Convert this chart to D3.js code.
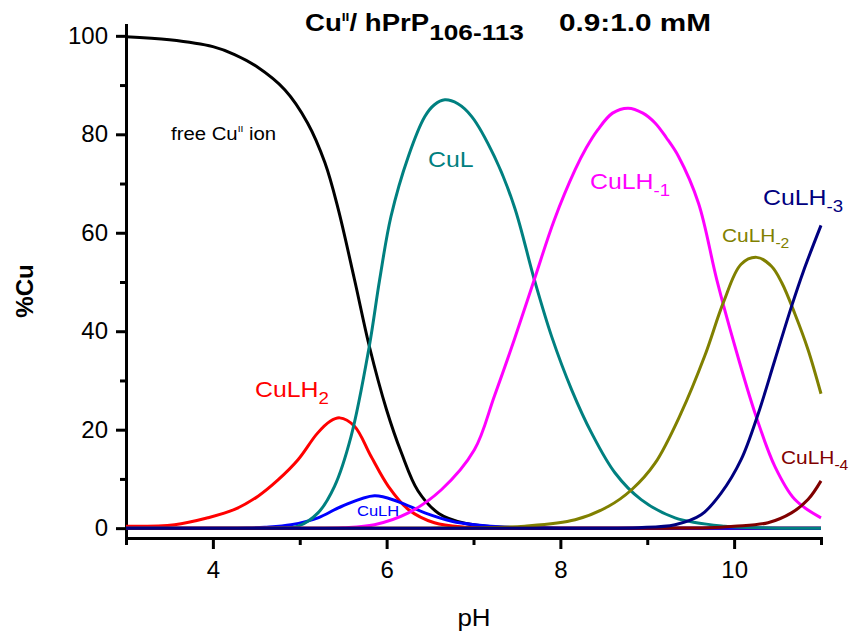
<!DOCTYPE html>
<html>
<head>
<meta charset="utf-8">
<script src="https://cdn.jsdelivr.net/npm/d3@7/dist/d3.min.js"></script>
<style>
    body { margin: 0; background: #fff; }
    text { font-family: "Liberation Sans", Arial, sans-serif; }
</style>
</head>
<body>
<div id="chart"></div>
<script>
// species distribution, [pH, %Cu]
var freeCu = [[3, 99.8], [3.5, 99.2], [4, 97.8], [4.25, 96.2], [4.5, 93.8], [4.83, 89], [5.09, 82.3],
    [5.29, 74.2], [5.44, 65], [5.63, 50.5], [5.8, 37], [6.0, 24], [6.17, 15.3], [6.36, 7.6], [6.6, 3.0],
    [6.9, 1.0], [7.3, 0.2], [8, 0], [11, 0]];
var culh2 = [[3, 0.4], [3.56, 0.7], [3.94, 2.1], [4.25, 3.8], [4.52, 6.5], [4.75, 9.8], [4.98, 13.9],
    [5.2, 19.2], [5.35, 21.7], [5.46, 22.4], [5.63, 20.7], [5.82, 14.6], [6.02, 8.5], [6.25, 3.8],
    [6.55, 1.1], [6.9, 0.2], [7.3, 0], [8, 0], [11, 0]];
var culh = [[3, 0], [4, 0], [4.4, 0.05], [4.6, 0.2], [4.9, 0.7], [5.21, 2.1], [5.48, 4.4], [5.86, 6.6],
    [6.13, 5.4], [6.44, 3.1], [6.75, 1.4], [7.01, 0.7], [7.5, 0.1], [8, 0], [11, 0]];
var cul = [[3, 0], [4.3, 0], [4.7, 0.05], [4.98, 0.4], [5.21, 3.1], [5.4, 8.5], [5.59, 18.6], [5.8, 36.9],
    [5.92, 50.5], [6.05, 63.3], [6.25, 75.5], [6.44, 83.6], [6.55, 86], [6.67, 87], [6.82, 86.2],
    [6.98, 83.6], [7.24, 75.5], [7.47, 65.3], [7.7, 50.5], [7.9, 38.9], [8.13, 28.1], [8.36, 19.3],
    [8.63, 11.2], [8.93, 5.8], [9.32, 2.1], [9.89, 0.4], [10.4, 0.05], [10.8, 0], [11, 0]];
var culhm1 = [[3, 0], [5, 0], [5.5, 0.1], [5.86, 0.7], [6.25, 3.1], [6.63, 7.8], [7.01, 15.9], [7.24, 26.8],
    [7.47, 38.3], [7.7, 50.5], [7.93, 62.6], [8.17, 72.8], [8.3, 77.3], [8.43, 80.9], [8.6, 84.3],
    [8.78, 85.3], [8.95, 84.3], [9.09, 82.3], [9.22, 79.3], [9.36, 75.5], [9.59, 66], [9.8, 50.5],
    [10.01, 36.9], [10.24, 23.4], [10.47, 12.5], [10.7, 5.8], [11, 2.1]];
var culhm2 = [[3, 0], [6.5, 0], [7.1, 0.1], [7.59, 0.4], [8.17, 1.7], [8.55, 4.4], [8.82, 7.8], [9.09, 13.2],
    [9.39, 23.4], [9.66, 34.9], [9.88, 46], [10.08, 53.6], [10.26, 55], [10.43, 53.2],
    [10.55, 49.8], [10.7, 43.5], [10.85, 36.3], [11, 27.3]];
var culhm3 = [[3, 0], [8.3, 0], [8.9, 0.1], [9.32, 0.7], [9.62, 2.7], [9.85, 7.1], [10.08, 13.9], [10.28, 23.4],
    [10.47, 34.2], [10.66, 45], [10.8, 52.3], [11, 61.5]];
var culhm4 = [[3, 0], [9.2, 0], [9.7, 0.1], [10.0, 0.4], [10.39, 1.1], [10.66, 3.1], [10.85, 5.8], [11, 9.6]];

var xTicks = [4, 6, 8, 10];
var xMinor = [3, 5, 7, 9, 11];
var yTicks = [0, 20, 40, 60, 80, 100];
var yMinor = [10, 30, 50, 70, 90];

var species = [
    {data: freeCu, color: "#000000"},
    {data: culh2, color: "#ff0000"},
    {data: culh, color: "#0000ff"},
    {data: cul, color: "#008080"},
    {data: culhm1, color: "#ff00ff"},
    {data: culhm2, color: "#808000"},
    {data: culhm4, color: "#800000"},
    {data: culhm3, color: "#000080"}
];

var width = 849, height = 632;

var svg = d3.select("#chart")
    .append("svg")
    .attr("width", width)
    .attr("height", height);

var xScale = d3.scaleLinear().domain([3, 11]).range([126, 821]);
var yScale = d3.scaleLinear().domain([-2, 102.2]).range([538, 25]);

//axes
svg.append("g")
    .attr("transform", "translate(0,538)")
    .call(d3.axisBottom(xScale).tickValues(xTicks).tickSize(11).tickSizeOuter(0)
        .tickPadding(12).tickFormat(d3.format("d")));
svg.append("g")
    .attr("class", "minor")
    .attr("transform", "translate(0,538)")
    .call(d3.axisBottom(xScale).tickValues(xMinor).tickSize(7).tickFormat(""));

svg.append("g")
    .attr("transform", "translate(126,0)")
    .call(d3.axisLeft(yScale).tickValues(yTicks).tickSize(10).tickSizeOuter(0)
        .tickPadding(8).tickFormat(d3.format("d")));
svg.append("g")
    .attr("class", "minor")
    .attr("transform", "translate(126,0)")
    .call(d3.axisLeft(yScale).tickValues(yMinor).tickSize(6).tickFormat(""));

svg.selectAll(".minor .domain").remove();
svg.selectAll(".domain").attr("stroke-width", 3).attr("stroke-linecap", "square");
svg.selectAll(".tick line").attr("stroke-width", 3);
svg.selectAll(".tick text")
    .attr("font-size", 24)
    .attr("font-family", "Liberation Sans, Arial, sans-serif")
    .attr("fill", "#000");

//curves
var line = d3.line()
    .x(function (d) { return xScale(d[0]); })
    .y(function (d) { return yScale(d[1]); })
    .curve(d3.curveCatmullRom.alpha(0.5));

svg.append("g").selectAll("path")
    .data(species)
    .enter().append("path")
    .attr("d", function (d) { return line(d.data); })
    .attr("fill", "none")
    .attr("stroke", function (d) { return d.color; })
    .attr("stroke-width", 3)
    .attr("stroke-linejoin", "round");

//text helper: parts are [text, "sub"|"sup"|""]
function label(x, y, parts, size, color, opts) {
    opts = opts || {};
    var t = svg.append("text")
        .attr("transform", "translate(" + x + "," + y + ")" + (opts.rotate ? " rotate(" + opts.rotate + ")" : "")
            + " scale(" + (opts.sx || 1) + ",1)")
        .attr("font-size", size)
        .attr("fill", color)
        .attr("font-weight", opts.bold ? "bold" : "normal")
        .attr("text-anchor", opts.anchor || "start");
    var shift = 0;
    parts.forEach(function (p) {
        var s = t.append("tspan").text(p[0]);
        var want = 0;
        if (p[1] === "sub") {
            s.attr("font-size", size * (opts.subScale || 0.75));
            want = size * (opts.subShift || 0.3);
        } else if (p[1] === "sup") {
            s.attr("font-size", size * 0.5);
            want = -size * 0.42;
        }
        if (want !== shift) s.attr("dy", want - shift);
        shift = want;
    });
    return t;
}

label(305, 31, [["Cu"], ["II", "sup"], ["/ hPrP"], ["106-113", "sub"]], 23, "#000",
    {bold: true, sx: 1.2, subScale: 0.95, subShift: 0.4});
label(559, 31, [["0.9:1.0 mM"]], 24, "#000", {bold: true, sx: 1.24});

label(171, 140, [["free Cu"], ["II", "sup"], [" ion"]], 18, "#000", {sx: 1.13});
label(428, 167, [["CuL"]], 22, "#008080", {sx: 1.13});
label(255, 397, [["CuLH"], ["2", "sub"]], 22, "#ff0000", {sx: 1.13});
label(357, 516, [["CuLH"]], 15, "#0000ff", {sx: 1.1});
label(590, 189, [["CuLH"], ["-1", "sub"]], 22, "#ff00ff", {sx: 1.13});
label(722, 242, [["CuLH"], ["-2", "sub"]], 18.5, "#808000", {sx: 1.13});
label(763, 205, [["CuLH"], ["-3", "sub"]], 22, "#000080", {sx: 1.13});
label(781, 464, [["CuLH"], ["-4", "sub"]], 18.5, "#800000", {sx: 1.13});

label(474, 626, [["pH"]], 24, "#000", {anchor: "middle", sx: 1.08});
label(33, 291, [["%Cu"]], 24, "#000", {anchor: "middle", bold: true, rotate: -90});
</script>
</body>
</html>
